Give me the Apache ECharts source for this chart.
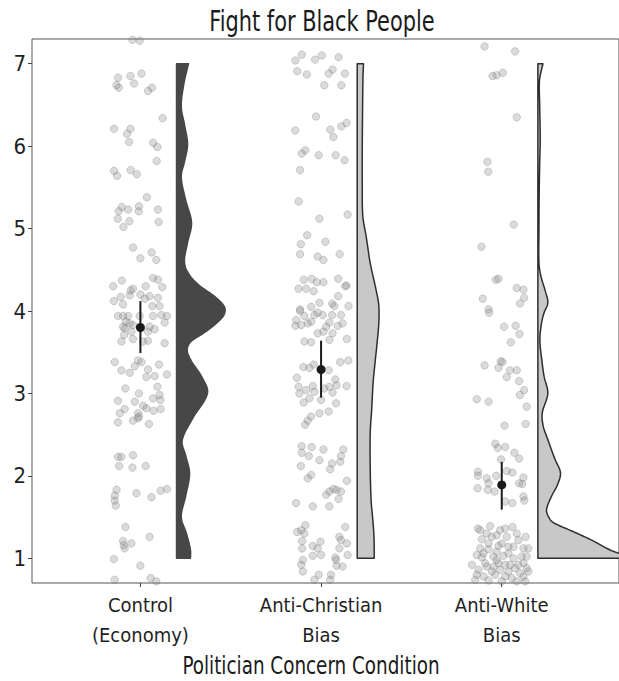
<!DOCTYPE html>
<html><head><meta charset="utf-8">
<script src="https://cdn.jsdelivr.net/npm/echarts@6/dist/echarts.min.js"></script>
<style>html,body{margin:0;padding:0;background:#fff}#c{width:619px;height:681px}</style>
</head><body><div id="c"></div>
<script>
// ---------------- data ----------------
const chartTitle = 'Fight for Black People';
const xAxisTitle = 'Politician Concern Condition';
const categories = ['Control\n(Economy)', 'Anti-Christian\nBias', 'Anti-White\nBias'];
const yTicks = [1, 2, 3, 4, 5, 6, 7];
const means = [3.80, 3.29, 1.89];
const ciLow = [3.49, 2.95, 1.59];
const ciHigh = [4.12, 3.64, 2.17];

// jittered raw responses: [horizontal jitter offset, rating]
const controlPoints = [
[-0.044,7.29],[-0.004,7.28],[-0.124,6.83],[-0.055,6.85],[0.006,6.88],[-0.132,6.74],[-0.120,6.71],[-0.035,6.76],[0.042,6.67],[0.064,6.71],[0.123,6.34],[-0.146,6.21],[-0.055,6.21],[-0.074,6.15],[-0.063,6.05],[0.070,6.04],[0.094,5.99],[0.090,5.82],[-0.146,5.70],[-0.129,5.64],[-0.054,5.71],[-0.020,5.66],[0.036,5.38],[-0.103,5.26],[-0.120,5.21],[-0.068,5.23],[-0.008,5.27],[-0.009,5.21],[0.097,5.23],[-0.125,5.12],[-0.061,5.09],[-0.094,5.02],[0.101,5.08],[-0.041,4.77],[0.062,4.71],[0,4.64],[0.088,4.62],
[-0.151,4.30],[-0.103,4.37],[-0.054,4.25],[-0.041,4.27],[0,4.20],[0.029,4.30],[0.070,4.40],[0.097,4.38],[0.121,4.29],[-0.147,4.12],[-0.109,4.17],[-0.096,4.08],[-0.059,4.19],[0.025,4.15],[0.051,4.18],[0.097,4.16],[0.066,4.06],[0.106,4.06],
[-0.124,3.94],[-0.096,3.94],[-0.068,3.94],[-0.004,3.94],[0.070,3.94],[0.116,3.95],[0.147,3.94],[-0.081,3.87],[-0.059,3.85],[0.134,3.86],[-0.041,3.83],[-0.096,3.81],[-0.087,3.79],[0.051,3.81],[0.079,3.78],[0.042,3.75],[-0.050,3.75],[-0.090,3.71],[-0.105,3.63],[-0.041,3.66],[0.015,3.63],[0.042,3.64],[0.134,3.61],
[-0.142,3.38],[-0.105,3.28],[-0.059,3.25],[-0.013,3.40],[0.006,3.38],[0.042,3.29],[0.033,3.20],[0.079,3.21],[0.103,3.35],[0.147,3.23],[-0.031,3.33],
[-0.083,3.06],[-0.008,3.00],[-0.124,2.91],[-0.031,2.90],[0.015,2.85],[-0.087,2.81],[-0.114,2.76],[-0.013,2.76],[0.033,2.82],[0.070,2.94],[0.106,2.98],[0.110,2.92],[0.073,2.79],[0.112,2.81],[0.094,3.08],[-0.013,2.70],[-0.041,2.67],[-0.124,2.65],[0.047,2.63],[-0.008,2.72],
[-0.124,2.23],[-0.105,2.23],[-0.041,2.25],[-0.118,2.12],[-0.044,2.10],[0.029,2.12],
[-0.132,1.83],[-0.142,1.76],[-0.142,1.70],[-0.136,1.64],[-0.022,1.79],[0.061,1.74],[0.112,1.82],[0.147,1.84],
[-0.083,1.38],[-0.096,1.21],[-0.092,1.16],[-0.087,1.12],[-0.050,1.18],[0.051,1.26],
[-0.147,0.99],[0,0.91],[-0.142,0.74],[0.057,0.76],[0.088,0.72]
];
const antiChristianPoints = [
[-0.142,7.04],[-0.107,7.11],[-0.033,7.05],[0.004,7.10],[0.097,7.08],
[-0.132,6.91],[-0.079,6.87],[0.042,6.88],[0.064,6.93],[0.132,6.88],[0.018,6.74],[0.112,6.74],
[-0.028,6.36],[-0.143,6.19],[0.051,6.20],[0.068,6.11],[0.112,6.24],[0.141,6.28],
[-0.107,5.91],[-0.087,5.95],[-0.013,5.89],[0.081,5.89],[0.130,5.83],
[-0.116,5.71],[-0.124,5.33],[-0.009,5.12],[0.147,5.17],
[-0.077,4.92],[-0.112,4.81],[0.024,4.84],[-0.116,4.69],[-0.019,4.66],[0.013,4.62],[0.103,4.69],
[-0.096,4.38],[-0.052,4.39],[-0.024,4.35],[0.013,4.35],[-0.125,4.27],[-0.083,4.27],[-0.041,4.24],[0.095,4.39],[0.141,4.31],[0.095,4.18],[0.152,4.06],[-0.009,4.10],[-0.055,4.05],[0.061,4.09],[-0.116,4.02],[0.134,4.30],
[-0.116,4.00],[-0.138,3.89],[-0.142,3.82],[-0.110,3.83],[-0.074,3.85],[-0.037,3.95],[0.009,3.95],[0.046,3.86],[0.061,3.95],[0.110,3.95],[0.119,3.85],[0.092,3.82],[0.028,3.81],[-0.055,3.87],[-0.019,3.98],[-0.092,3.94],[0.073,4.06],
[-0.019,3.73],[0.013,3.75],[0.064,3.73],[-0.092,3.63],[-0.055,3.62],[0.046,3.65],[0.143,3.66],
[0.106,3.38],[0.151,3.40],[-0.098,3.32],[-0.065,3.31],[-0.041,3.35],[0.042,3.28],
[-0.134,3.19],[-0.124,3.08],[-0.083,3.04],[-0.046,3.09],[-0.037,3.02],[0.018,3.06],[0.046,3.08],[0.079,3.17],[0.086,3.10],[0.141,3.09],[-0.120,3.00],[0.064,3.01],
[-0.065,2.94],[-0.096,2.89],[0,2.92],[0.083,2.88],[0.042,2.78],[-0.009,2.76],[-0.055,2.72],[-0.074,2.67],[-0.088,2.62],
[-0.107,2.36],[-0.052,2.35],[-0.107,2.28],[-0.068,2.24],[0.013,2.32],[-0.009,2.19],[0.110,2.24],[0.106,2.17],[0.123,2.32],[0.061,2.15],[0.050,2.08],[-0.112,2.12],[-0.055,2.01],[-0.074,1.97],[0.143,1.94],
[0.028,1.77],[0.046,1.81],[0.068,1.84],[0.086,1.83],[0.110,1.81],[0.097,1.72],[-0.138,1.67],[-0.046,1.63],[0.046,1.63],
[-0.132,1.32],[-0.110,1.34],[-0.087,1.40],[-0.092,1.30],[0.134,1.38],[-0.105,1.21],[-0.105,1.12],[-0.046,1.15],[-0.019,1.12],[-0.004,1.20],[0.101,1.26],[0.110,1.22],[0.101,1.12],[0.143,1.18],[0.147,1.04],[0.079,1.01],[0,1.04],[-0.046,1.03],[-0.101,0.98],[-0.110,0.92],[-0.101,0.84],[-0.013,0.80],[0.055,0.80],[0.086,0.91],[0.119,0.90],[0.083,0.98],[-0.037,0.74],[0.051,0.74]
];
const antiWhitePoints = [
[-0.095,7.21],[0.074,7.15],[-0.051,6.85],[-0.028,6.86],[0.006,6.89],[0.083,6.35],[-0.079,5.81],[-0.075,5.69],[0.066,5.05],[-0.112,4.78],[-0.033,4.38],[-0.018,4.39],[0.083,4.28],[0.120,4.26],[0.124,4.16],[-0.105,4.15],[0.101,4.09],[-0.073,4.02],
[-0.070,3.98],[0.013,3.81],[0.077,3.82],[0.098,3.72],[0.050,3.62],
[-0.095,3.34],[-0.018,3.31],[-0.006,3.39],[0.004,3.38],[0.046,3.28],[0.083,3.28],[0.028,3.20],[0.096,3.15],[0.124,3.04],[0.101,2.98],
[-0.138,2.93],[-0.073,2.90],[0.138,2.84],[0.015,2.61],[0.132,2.63],
[-0.036,2.39],[-0.022,2.34],[0.019,2.35],[-0.004,2.20],[0.070,2.28],[0.096,2.21],
[-0.132,2.05],[-0.132,2.00],[-0.083,1.97],[-0.031,2.00],[0.028,2.06],[0.059,2.04],[0.120,1.98],[0.114,1.90],[0.096,1.91],[-0.073,1.91],[-0.134,1.85],[-0.077,1.83],[-0.040,1.81],[0.019,1.69],[0.059,1.67],[0.120,1.75],[0.125,1.70],
[-0.132,1.36],[-0.119,1.34],[-0.064,1.39],[-0.009,1.34],[0.019,1.36],[0.059,1.38],[-0.110,1.23],[-0.055,1.26],[0.028,1.26],[0.132,1.26],[0.092,1.22],[-0.119,1.12],[-0.073,1.11],[-0.018,1.15],[0.037,1.14],[0.120,1.12],[0.147,1.12],[-0.138,1.04],[-0.110,1.01],[-0.046,1.02],[0.009,1.03],[0.065,1.00],[0.110,1.02],[-0.018,0.94],[0.019,0.92],[0.046,0.92],[0.092,0.92],[0.120,0.94],[0.138,0.88],[-0.129,0.86],[-0.083,0.90],[-0.046,0.90],[-0.009,0.86],[0.074,0.88],[-0.138,0.80],[-0.101,0.78],[-0.036,0.80],[0.019,0.78],[0.055,0.76],[0.120,0.78],[0.147,0.84],[-0.147,0.74],[-0.073,0.73],[0,0.72],[0.083,0.72],[0.129,0.72],[-0.028,0.98],[-0.092,0.94],[0.037,1.06],[0,1.18],[-0.073,1.18],[0.083,1.30],[0.138,1.02],[-0.165,0.92],[-0.083,1.30],[-0.028,1.28],[0.065,1.14],[-0.055,0.84],[0.037,0.84],[0.101,0.82],[-0.101,1.06],[-0.028,1.08]
];

// half-violin density profiles: [rating, half width (x-axis units)]
const controlViolin = [
[1.00,0.077],[1.10,0.077],[1.30,0.055],[1.50,0.026],[1.75,0.05],[2.03,0.072],[2.25,0.05],[2.43,0.031],[2.70,0.09],[3.00,0.171],[3.20,0.14],[3.40,0.08],[3.53,0.059],[3.63,0.08],[3.73,0.149],[3.85,0.22],[3.95,0.262],[4.05,0.265],[4.17,0.215],[4.30,0.132],[4.42,0.077],[4.58,0.044],[4.82,0.06],[5.07,0.083],[5.35,0.05],[5.63,0.026],[5.82,0.045],[6.02,0.061],[6.25,0.045],[6.48,0.026],[6.75,0.04],[7.00,0.066]
];
const antiChristianViolin = [
[1.00,0.094],[1.15,0.094],[1.30,0.092],[1.50,0.085],[1.70,0.077],[2.10,0.072],[2.52,0.072],[2.80,0.08],[3.13,0.088],[3.40,0.10],[3.61,0.11],[3.80,0.118],[3.95,0.121],[4.10,0.118],[4.25,0.105],[4.40,0.09],[4.58,0.072],[4.75,0.06],[4.90,0.05],[5.15,0.031],[5.50,0.028],[6.00,0.028],[6.50,0.03],[6.85,0.032],[7.00,0.035]
];
const antiWhiteViolin = [
[1.00,0.50],[1.05,0.46],[1.10,0.40],[1.22,0.298],[1.32,0.199],[1.43,0.088],[1.50,0.06],[1.59,0.048],[1.75,0.075],[1.90,0.11],[2.04,0.125],[2.20,0.095],[2.44,0.055],[2.60,0.03],[2.76,0.024],[3.00,0.055],[3.20,0.035],[3.40,0.022],[3.65,0.011],[3.85,0.02],[3.97,0.033],[4.10,0.055],[4.25,0.04],[4.42,0.017],[4.58,0.006],[5.00,0.006],[5.39,0.007],[5.80,0.01],[6.08,0.013],[6.50,0.01],[6.80,0.009],[7.00,0.028]
];

// ---------------- styling / layout ----------------
const FONT = "'Liberation Sans Narrow', 'DejaVu Sans Condensed', 'Roboto Condensed', sans-serif";
const violinOffset = 0.2;
const violinFills = ['#474747', '#c8c8c8', '#c8c8c8'];
const violinStrokes = ['#474747', '#2e2e2e', '#2e2e2e'];
const groupPoints = [controlPoints, antiChristianPoints, antiWhitePoints];
const violins = [controlViolin, antiChristianViolin, antiWhiteViolin];

function hermiteProfile(prof) {
  const n = prof.length, m = [];
  for (let k = 0; k < n; k++) {
    if (k === 0) m.push((prof[1][1] - prof[0][1]) / (prof[1][0] - prof[0][0]));
    else if (k === n - 1) m.push((prof[n-1][1] - prof[n-2][1]) / (prof[n-1][0] - prof[n-2][0]));
    else m.push((prof[k+1][1] - prof[k-1][1]) / (prof[k+1][0] - prof[k-1][0]));
  }
  const out = [];
  for (let k = 0; k < n - 1; k++) {
    const y0 = prof[k][0], y1 = prof[k+1][0], h = y1 - y0;
    const steps = 10;
    for (let s = 0; s < steps; s++) {
      const t = s / steps, t2 = t*t, t3 = t2*t;
      const w = (2*t3 - 3*t2 + 1) * prof[k][1] + (t3 - 2*t2 + t) * h * m[k]
              + (-2*t3 + 3*t2) * prof[k+1][1] + (t3 - t2) * h * m[k+1];
      out.push([y0 + t*h, Math.max(0, w)]);
    }
  }
  out.push([prof[n-1][0], prof[n-1][1]]);
  return out;
}

const chart = echarts.init(document.getElementById('c'), null, {renderer: 'svg', width: 619, height: 681});

const option = {
  animation: false,
  backgroundColor: '#ffffff',
  grid: {left: 32, right: -2, top: 39, bottom: 98, show: true, borderColor: '#555555', borderWidth: 1, backgroundColor: 'transparent'},
  xAxis: {
    type: 'value', min: 0.4, max: 3.649,
    axisLine: {show: false},
    splitLine: {show: false},
    axisTick: {show: true, customValues: [1, 2, 3], length: 4, lineStyle: {color: '#444'}},
    axisLabel: {customValues: [1, 2, 3], formatter: v => categories[Math.round(v) - 1], fontFamily: FONT, fontSize: 20, lineHeight: 30, color: '#1f1f1f', margin: 7}
  },
  yAxis: {
    type: 'value', min: 0.7, max: 7.3,
    axisLine: {show: false},
    splitLine: {show: false},
    axisTick: {show: true, customValues: yTicks, length: 4, lineStyle: {color: '#444'}},
    axisLabel: {customValues: yTicks, formatter: v => String(Math.round(v)), fontFamily: FONT, fontSize: 22, color: '#1f1f1f', margin: 6}
  },
  graphic: [
    {type: 'text', x: 322, y: 21, scaleX: 0.83, style: {text: chartTitle, font: '28px ' + FONT, fill: '#1a1a1a', align: 'center', verticalAlign: 'middle'}},
    {type: 'text', x: 311, y: 665, scaleX: 0.85, style: {text: xAxisTitle, font: '24px ' + FONT, fill: '#1a1a1a', align: 'center', verticalAlign: 'middle'}}
  ],
  series: [
    {
      type: 'custom', name: 'density', z: 1, clip: true,
      data: categories.map((c, i) => [i + 1, 4]),
      renderItem: function (params, api) {
        const i = params.dataIndex;
        const base = i + 1 + violinOffset;
        const curve = hermiteProfile(violins[i]).map(p => api.coord([base + p[1], p[0]]));
        const first = violins[i][0][0], last = violins[i][violins[i].length - 1][0];
        const pts = [api.coord([base, first])].concat(curve).concat([api.coord([base, last])]);
        return {type: 'polygon', shape: {points: pts}, style: {fill: violinFills[i], stroke: violinStrokes[i], lineWidth: 1.5, lineJoin: 'round'}};
      }
    },
    ...groupPoints.map((pts, i) => ({
      type: 'scatter', name: categories[i], z: 2,
      symbolSize: 7.5,
      data: pts.map(p => [i + 1 + p[0], p[1]]),
      itemStyle: {color: 'rgba(127,127,127,0.28)', borderColor: 'rgba(110,110,110,0.28)', borderWidth: 1, opacity: 1}
    })),
    {
      type: 'custom', name: 'ci', z: 3,
      data: means.map((m, i) => [i + 1, ciLow[i], ciHigh[i]]),
      renderItem: function (params, api) {
        const x = api.value(0);
        const a = api.coord([x, api.value(1)]), b = api.coord([x, api.value(2)]);
        return {type: 'line', shape: {x1: a[0], y1: a[1], x2: b[0], y2: b[1]}, style: {stroke: '#1a1a1a', lineWidth: 2}};
      }
    },
    {
      type: 'scatter', name: 'mean', z: 4, symbolSize: 9,
      data: means.map((m, i) => [i + 1, m]),
      itemStyle: {color: '#1a1a1a', opacity: 1}
    }
  ]
};
chart.setOption(option);
</script>
</body></html>
